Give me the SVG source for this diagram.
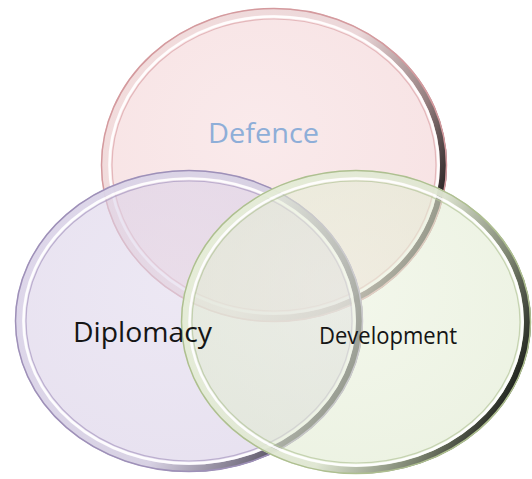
<svg xmlns="http://www.w3.org/2000/svg" width="532" height="479" viewBox="0 0 532 479">
<defs>
<linearGradient id="rimR" x1="0" y1="0.2" x2="1" y2="0.6">
<stop offset="0" stop-color="#f2dcdc"/><stop offset="0.6" stop-color="#ead6d8"/><stop offset="0.85" stop-color="#8a7474"/><stop offset="1" stop-color="#151010"/>
</linearGradient>
<linearGradient id="rimP" x1="0" y1="0.2" x2="1" y2="0.6">
<stop offset="0" stop-color="#ddd6ea"/><stop offset="0.6" stop-color="#d6d0e2"/><stop offset="0.85" stop-color="#6a6476"/><stop offset="1" stop-color="#141218"/>
</linearGradient>
<linearGradient id="rimG" x1="0" y1="0.2" x2="1" y2="0.6">
<stop offset="0" stop-color="#e6eed8"/><stop offset="0.6" stop-color="#dfe6d2"/><stop offset="0.85" stop-color="#6c7460"/><stop offset="1" stop-color="#121510"/>
</linearGradient>
<radialGradient id="fillR" cx="0.45" cy="0.4" r="0.6">
<stop offset="0" stop-color="#f6dcde"/><stop offset="1" stop-color="#f2d0d2"/>
</radialGradient>
<radialGradient id="fillP" cx="0.45" cy="0.4" r="0.6">
<stop offset="0" stop-color="#e0d8ec"/><stop offset="1" stop-color="#d8cee6"/>
</radialGradient>
<radialGradient id="fillG" cx="0.45" cy="0.4" r="0.6">
<stop offset="0" stop-color="#ebf2de"/><stop offset="1" stop-color="#e0ead0"/>
</radialGradient>
</defs>
<style>
.body{fill-opacity:0.6}
.rim{fill:none;stroke-width:7;stroke-opacity:0.9}
.edge{fill:none;stroke-width:1.5}
.hl{fill:none;stroke:#ffffff;stroke-width:2.5;stroke-opacity:0.9}
.in{fill:none;stroke-width:1.2;stroke-opacity:0.7}
.lbl{font-family:"Open Sans","Liberation Sans",sans-serif}
</style>
<rect width="532" height="479" fill="#ffffff"/>
<g id="defence">
<ellipse class="body" cx="274" cy="165" rx="173" ry="157" fill="url(#fillR)"/>
<ellipse class="rim" cx="274" cy="165" rx="169.5" ry="153.5" stroke="url(#rimR)"/>
<ellipse class="edge" cx="274" cy="165" rx="172.5" ry="156.5" stroke="#d49a9e"/>
<ellipse class="hl" cx="274" cy="165" rx="164.5" ry="148.5"/>
<ellipse class="in" cx="274" cy="165" rx="162" ry="146" stroke="#dca4a8"/>
</g>
<g id="diplomacy">
<ellipse class="body" cx="189" cy="321" rx="174" ry="151" fill="url(#fillP)"/>
<ellipse class="rim" cx="189" cy="321" rx="170.5" ry="147.5" stroke="url(#rimP)"/>
<ellipse class="edge" cx="189" cy="321" rx="173.5" ry="150.5" stroke="#9e90b8"/>
<ellipse class="hl" cx="189" cy="321" rx="165.5" ry="142.5"/>
<ellipse class="in" cx="189" cy="321" rx="163" ry="140" stroke="#a898c0"/>
</g>
<g id="development">
<ellipse class="body" cx="356" cy="322" rx="175" ry="152" fill="url(#fillG)"/>
<ellipse class="rim" cx="356" cy="322" rx="171.5" ry="148.5" stroke="url(#rimG)"/>
<ellipse class="edge" cx="356" cy="322" rx="174.5" ry="151.5" stroke="#aebf90"/>
<ellipse class="hl" cx="356" cy="322" rx="166.5" ry="143.5"/>
<ellipse class="in" cx="356" cy="322" rx="164" ry="141" stroke="#b4c49a"/>
</g>
<g id="labels">
<text class="lbl" x="208" y="143" font-size="27" fill="#8eaed8" textLength="111" lengthAdjust="spacingAndGlyphs">Defence</text>
<text class="lbl" x="73" y="342" font-size="27" fill="#151515" textLength="139" lengthAdjust="spacingAndGlyphs">Diplomacy</text>
<text class="lbl" x="319" y="344" font-size="23" fill="#151515" textLength="138" lengthAdjust="spacingAndGlyphs">Development</text>
</g>
</svg>
